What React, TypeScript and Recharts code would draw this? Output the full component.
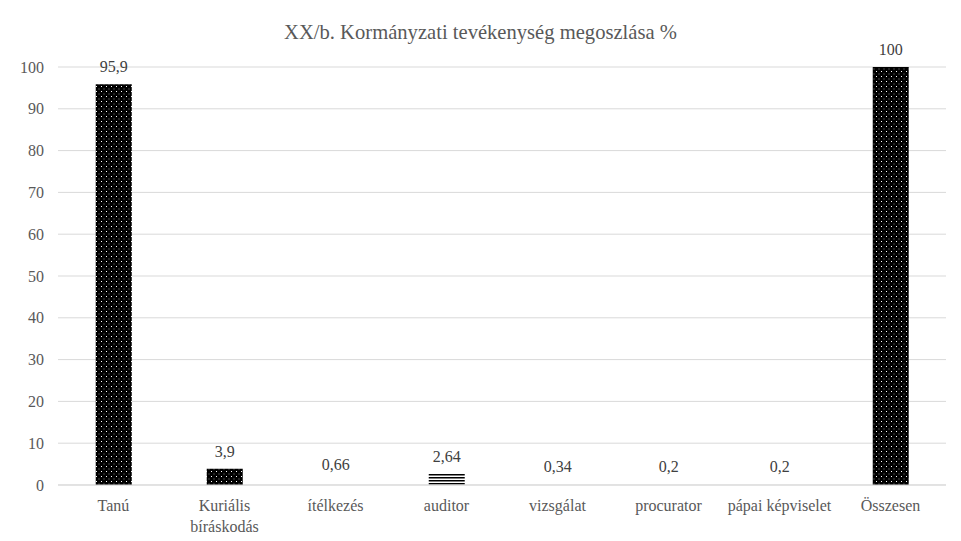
import React from "react";
import { BarChart, Bar, XAxis, YAxis, CartesianGrid, LabelList, Cell } from "recharts";

const categories = [
  "Tanú",
  "Kuriális\nbíráskodás",
  "ítélkezés",
  "auditor",
  "vizsgálat",
  "procurator",
  "pápai képviselet",
  "Összesen",
];
const values = [95.9, 3.9, 0.66, 2.64, 0.34, 0.2, 0.2, 100];
const fills = ["dots", "dots", "none", "stripes", "none", "none", "none", "dots"];
const yTicks = [0, 10, 20, 30, 40, 50, 60, 70, 80, 90, 100];

const data = categories.map((name, i) => ({ name, value: values[i], fill: fills[i] }));

const FONT = "'Liberation Serif', serif";
const GREY = "#595959";

function fillFor(kind: string) {
  if (kind === "dots") return "url(#dots)";
  if (kind === "stripes") return "url(#stripes)";
  return "none";
}

function CategoryTick(props: any) {
  const { x, y, payload } = props;
  const lines = String(payload.value).split("\n");
  return (
    <text x={x} y={y} textAnchor="middle" fill={GREY} fontFamily={FONT} fontSize={16}>
      {lines.map((l, i) => (
        <tspan key={i} x={x} dy={i === 0 ? 18 : 21}>
          {l}
        </tspan>
      ))}
    </text>
  );
}

export default function App() {
  return (
    <div style={{ position: "relative", width: 961, height: 541, margin: -8, overflow: "hidden", background: "#fff" }}>
      <svg width={0} height={0} style={{ position: "absolute" }}>
        <defs>
          <pattern id="dots" width={5} height={5} patternUnits="userSpaceOnUse">
            <rect width={5} height={5} fill="#000" />
            <rect x={1} y={1} width={1} height={1} fill="#fff" />
            <rect x={3.5} y={3.5} width={1} height={1} fill="#888" />
          </pattern>
          <pattern id="stripes" width={4} height={3} patternUnits="userSpaceOnUse">
            <rect width={4} height={3} fill="#fff" />
            <rect y={0} width={4} height={1.5} fill="#000" />
          </pattern>
        </defs>
      </svg>
      <div
        style={{
          position: "absolute",
          left: 6,
          top: 7,
          width: 960,
          height: 540,
          border: "1px solid #d9d9d9",
        }}
      />
      <div
        style={{
          position: "absolute",
          top: 21,
          width: 961,
          textAlign: "center",
          fontFamily: FONT,
          fontSize: 20.6,
          color: GREY,
        }}
      >
        XX/b. Kormányzati tevékenység megoszlása %
      </div>
      <div style={{ position: "absolute", left: 0, top: 0 }}>
        <BarChart
          width={961}
          height={541}
          data={data}
          margin={{ top: 67, right: 15, left: 8, bottom: 16 }}
          barCategoryGap="34%"
        >
          <CartesianGrid vertical={false} stroke="#d9d9d9" />
          <XAxis
            dataKey="name"
            interval={0}
            height={40}
            tickLine={false}
            axisLine={{ stroke: "#d9d9d9" }}
            tick={<CategoryTick />}
          />
          <YAxis
            domain={[0, 100]}
            ticks={yTicks}
            width={50}
            axisLine={false}
            tickLine={false}
            tickMargin={8}
            tick={{ fill: GREY, fontFamily: FONT, fontSize: 16 }}
          />
          <Bar dataKey="value" isAnimationActive={false}>
            {data.map((d, i) => (
              <Cell key={i} fill={fillFor(d.fill)} />
            ))}
            <LabelList
              dataKey="value"
              position="top"
              offset={12}
              fill="#404040"
              fontFamily={FONT}
              fontSize={16}
              formatter={(v: any) => String(v).replace(".", ",")}
            />
          </Bar>
        </BarChart>
      </div>
    </div>
  );
}
